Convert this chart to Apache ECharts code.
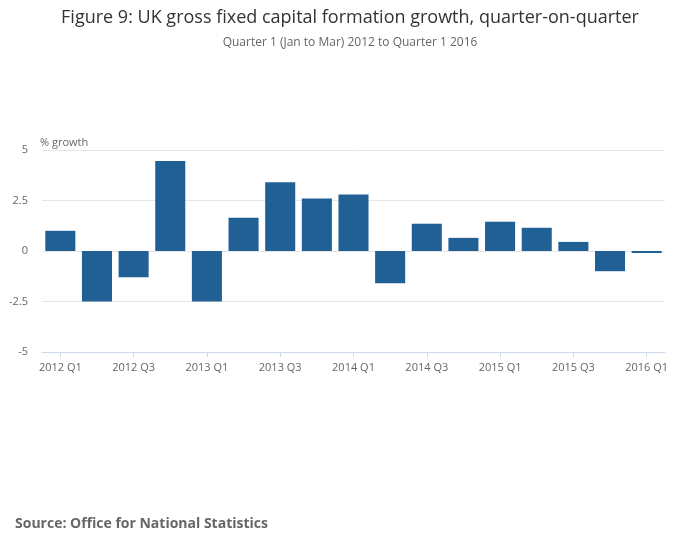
<!DOCTYPE html>
<html>
<head>
<meta charset="utf-8">
<script src="https://cdn.jsdelivr.net/npm/echarts@6/dist/echarts.min.js"></script>
<style>
  html, body { margin: 0; padding: 0; background: #fff; }
  #chart { width: 700px; height: 549px; }
</style>
</head>
<body>
<div id="chart"></div>
<script>
// quarters and q-on-q growth (%)
var quarters = ['2012 Q1', '2012 Q2', '2012 Q3', '2012 Q4', '2013 Q1', '2013 Q2', '2013 Q3', '2013 Q4',
  '2014 Q1', '2014 Q2', '2014 Q3', '2014 Q4', '2015 Q1', '2015 Q2', '2015 Q3', '2015 Q4', '2016 Q1']
var growth = [1.0, -2.5, -1.3, 4.45, -2.5, 1.65, 3.4, 2.6, 2.8, -1.6, 1.35, 0.65, 1.45, 1.15, 0.45, -1.0, -0.1]
var tickLabels = { '5': '5', '2.5': '2.5', '0': '0', '-2.5': '-2.5', '-5': '-5' }

var chart = echarts.init(document.getElementById('chart'))
var font = 'Open Sans'
chart.setOption({
  animation: false,
  textStyle: { fontFamily: font },
  title: [
    {
      text: 'Figure 9: UK gross fixed capital formation growth, quarter-on-quarter',
      subtext: 'Quarter 1 (Jan to Mar) 2012 to Quarter 1 2016',
      left: 'center', top: 4, itemGap: 10,
      textStyle: { fontSize: 18, fontWeight: 'normal', color: '#333', fontFamily: font },
      subtextStyle: { fontSize: 12, color: '#666', fontFamily: font }
    },
    {
      text: 'Source: Office for National Statistics',
      left: 10, top: 512,
      textStyle: { fontSize: 14, fontWeight: 'bold', color: '#666', fontFamily: font }
    }
  ],
  grid: { left: 42, right: 35, top: 150, bottom: 197 },
  xAxis: {
    type: 'category',
    data: quarters,
    axisLine: { onZero: false, lineStyle: { color: '#ccd6eb' } },
    axisTick: { show: true, interval: 1, alignWithLabel: true, lineStyle: { color: '#ccd6eb' } },
    axisLabel: { interval: 1, color: '#666', fontSize: 11, margin: 10 }
  },
  yAxis: {
    type: 'value',
    min: -5, max: 5, interval: 2.5,
    name: '% growth',
    nameLocation: 'end',
    nameGap: 2,
    nameTextStyle: { color: '#666', fontSize: 11, align: 'left', padding: [0, 0, 0, -2] },
    axisLine: { show: false },
    axisTick: { show: false },
    axisLabel: { color: '#666', fontSize: 11, margin: 14, formatter: function (v) { return tickLabels[String(v)] } },
    splitLine: { lineStyle: { color: '#e6e6e6' } }
  },
  series: [{
    type: 'bar',
    data: growth,
    barCategoryGap: '18%',
    itemStyle: { color: '#206095' }
  }]
})
</script>
</body>
</html>
